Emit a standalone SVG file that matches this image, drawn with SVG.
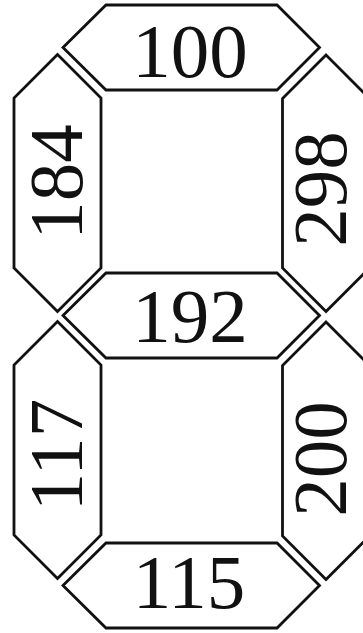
<svg xmlns="http://www.w3.org/2000/svg" width="363" height="633" viewBox="0 0 363 633">
<style>
.seg{fill:#fff;stroke:#111;stroke-width:2.8;stroke-linejoin:miter}
.t{font-family:"Liberation Serif","Times New Roman",serif;font-size:77px;fill:#111;text-anchor:middle}
</style>
<rect width="363" height="633" fill="#fff"/>
<g id="seg-top"><polygon class="seg" points="63,47.5 106,5 277,5 319.5,47.5 277,90 106,90"/><text class="t" x="190" y="77">100</text></g>
<g id="seg-upper-left"><polygon class="seg" points="57.5,54.5 101,98 101,268 57.5,311.5 14,268 14,98"/><text class="t" transform="translate(82,182) rotate(-90)">184</text></g>
<g id="seg-upper-right"><polygon class="seg" points="326,55 369.5,98.5 369.5,268 326,311.5 282.5,268 282.5,98.5"/><text class="t" transform="translate(346,189) rotate(-90)">298</text></g>
<g id="seg-middle"><polygon class="seg" points="63,315.5 106,273 277,273 319.5,315.5 277,358 106,358"/><text class="t" x="190" y="342">192</text></g>
<g id="seg-lower-left"><polygon class="seg" points="57.5,321.5 101,365 101,535 57.5,578.5 14,535 14,365"/><text class="t" transform="translate(82,455) rotate(-90)">117</text></g>
<g id="seg-lower-right"><polygon class="seg" points="326,322 369.5,365.5 369.5,536 326,579.5 282.5,536 282.5,365.5"/><text class="t" transform="translate(346,459) rotate(-90)">200</text></g>
<g id="seg-bottom"><polygon class="seg" points="63,585.5 106,543 277,543 319.5,585.5 277,628 106,628"/><text class="t" x="189" y="608">115</text></g>
<g id="connectors"/>
</svg>
